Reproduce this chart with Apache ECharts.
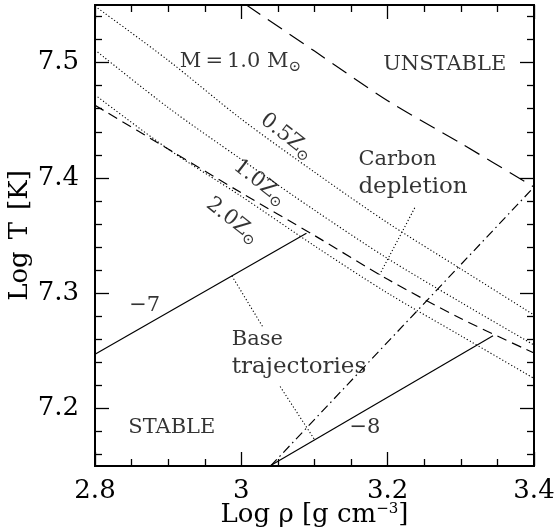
<!DOCTYPE html>
<html>
<head>
<meta charset="utf-8">
<script src="https://cdn.jsdelivr.net/npm/echarts@6/dist/echarts.min.js"></script>
<style>
  html, body { margin: 0; padding: 0; background: #fff; }
  #chart { width: 554px; height: 529px; }
</style>
</head>
<body>
<div id="chart"></div>
<script>
// Log density grid shared by the ignition curves
const logRho = [2.8, 2.9, 3.0, 3.1, 3.2, 3.3, 3.4];
// Ignition curves for M = 1.0 Msun at three metallicities
const logTHalfZ = [7.549, 7.502, 7.451, 7.405, 7.361, 7.321, 7.281];
const logTOneZ  = [7.511, 7.461, 7.416, 7.372, 7.330, 7.292, 7.255];
const logTTwoZ  = [7.472, 7.425, 7.384, 7.341, 7.300, 7.263, 7.226];
// Carbon depletion line
const logTCarbon = [7.463, 7.425, 7.387, 7.350, 7.312, 7.278, 7.248];
// Stability boundary (long dashes)
const rhoUnstable = [3.007, 3.1, 3.2, 3.3, 3.4];
const logTUnstable = [7.550, 7.510, 7.467, 7.430, 7.392];
// Dash-dot boundary
const rhoDashDot = [3.04, 3.4];
const logTDashDot = [7.15, 7.392];
// Base trajectories labelled by log accretion rate
const rhoTrajM7 = [2.8, 3.089];
const logTTrajM7 = [7.247, 7.352];
const rhoTrajM8 = [3.039, 3.344];
const logTTrajM8 = [7.15, 7.263];
// Pointer lines from the text notes
const rhoPtrCarbon = [3.237, 3.189];
const logTPtrCarbon = [7.374, 7.316];
const rhoPtrBase1 = [2.987, 3.030];
const logTPtrBase1 = [7.315, 7.270];
const rhoPtrBase2 = [3.053, 3.100];
const logTPtrBase2 = [7.219, 7.173];
// Axis ticks
const xRange = [2.8, 3.4];
const yRange = [7.15, 7.55];
const yTickLabels = [7.2, 7.3, 7.4, 7.5];
const yMinorTicks = [7.16, 7.18, 7.22, 7.24, 7.26, 7.28, 7.32, 7.34, 7.36, 7.38,
                     7.42, 7.44, 7.46, 7.48, 7.52, 7.54];
// Text notes (data coordinates)
const notes = [
  { text: 'M{eq|=}1.0 M{sub|⊙}', rho: 2.916, logT: 7.501, align: 'left', rotate: 0 },
  { text: 'UNSTABLE', rho: 3.278, logT: 7.498, align: 'center', rotate: 0 },
  { text: '0.5Z{sub|⊙}', rho: 3.062, logT: 7.436, align: 'center', rotate: -38 },
  { text: '1.0Z{sub|⊙}', rho: 3.025, logT: 7.396, align: 'center', rotate: -38 },
  { text: '2.0Z{sub|⊙}', rho: 2.988, logT: 7.363, align: 'center', rotate: -38 },
  { text: 'Carbon\n{wide|depletion}', rho: 3.160, logT: 7.404, align: 'left', rotate: 0 },
  { text: '\u22127', rho: 2.868, logT: 7.289, align: 'center', rotate: 0 },
  { text: 'Base\n{wide|trajectories}', rho: 2.987, logT: 7.248, align: 'left', rotate: 0 },
  { text: '\u22128', rho: 3.169, logT: 7.183, align: 'center', rotate: 0 },
  { text: 'STABLE', rho: 2.905, logT: 7.183, align: 'center', rotate: 0 }
];

const serif = '"DejaVu Serif", "Liberation Serif", serif';
const black = '#000';

function pairs(xs, ys) { return xs.map((x, i) => [x, ys[i]]); }

function lineSeries(xs, ys, style, smooth) {
  return {
    type: 'line',
    data: pairs(xs, ys),
    showSymbol: false,
    symbol: 'none',
    smooth: smooth ? 0.3 : false,
    silent: true,
    clip: true,
    lineStyle: Object.assign({ color: black, width: 1.2 }, style),
    z: 3
  };
}

const dotted = { type: [1.2, 2.2], width: 1.1 };
const xCommon = {
  type: 'value', min: xRange[0], max: xRange[1], interval: 0.2,
  axisLine: { show: true, onZero: false, lineStyle: { color: black, width: 2 } },
  axisTick: { show: true, inside: true, length: 14, lineStyle: { color: black, width: 1.3 } },
  minorTick: { show: true, splitNumber: 4, length: 7, lineStyle: { color: black, width: 1.3 } },
  splitLine: { show: false }, minorSplitLine: { show: false }
};
function yAxisDef(position, ticks, len, labels) {
  return {
    type: 'value', min: yRange[0], max: yRange[1], position: position,
    axisLine: { show: true, onZero: false, lineStyle: { color: black, width: 2 } },
    axisTick: { show: true, inside: true, length: len, customValues: ticks,
                lineStyle: { color: black, width: 1.3 } },
    axisLabel: labels ? {
      show: true, customValues: yTickLabels, fontFamily: serif, fontSize: 26,
      color: black, margin: 16, formatter: v => Number(v).toFixed(1)
    } : { show: false },
    splitLine: { show: false }
  };
}

const gap = { width: 12 };
const yLeft = yAxisDef('left', yTickLabels, 14, true);
yLeft.name = 'Log{sp| }T{sp| }[K]';
yLeft.nameLocation = 'middle';
yLeft.nameGap = 62;
yLeft.nameMoveOverlap = false;
yLeft.nameTextStyle = { fontFamily: serif, fontSize: 26, color: black,
                        rich: { sp: Object.assign({ fontFamily: serif, fontSize: 26 }, gap) } };

const option = {
  animation: false,
  backgroundColor: '#fff',
  grid: { left: 95, right: 20, top: 5, bottom: 63, containLabel: false, outerBoundsMode: 'none' },
  xAxis: [
    Object.assign({}, xCommon, {
      position: 'bottom',
      axisLabel: { show: true, fontFamily: serif, fontSize: 26, color: black, margin: 12,
                   formatter: v => String(Number(Number(v).toFixed(1))) },
      name: 'Log \u03c1 [g cm{sup|\u22123}]',
      nameLocation: 'middle', nameGap: 36, nameMoveOverlap: false,
      nameTextStyle: { fontFamily: serif, fontSize: 26, color: black,
                       rich: { sup: { fontFamily: serif, fontSize: 15, lineHeight: 10, verticalAlign: 'top', color: black } } }
    }),
    Object.assign({}, xCommon, { position: 'top', axisLabel: { show: false } })
  ],
  yAxis: [
    yLeft,
    yAxisDef('left', yMinorTicks, 7, false),
    yAxisDef('right', yTickLabels, 14, false),
    yAxisDef('right', yMinorTicks, 7, false)
  ],
  series: [
    lineSeries(logRho, logTHalfZ, dotted, true),
    lineSeries(logRho, logTOneZ, dotted, true),
    lineSeries(logRho, logTTwoZ, dotted, true),
    lineSeries(logRho, logTCarbon, { type: [10, 6] }, true),
    lineSeries(rhoUnstable, logTUnstable, { type: [17, 9] }, true),
    lineSeries(rhoDashDot, logTDashDot, { type: [9, 4, 1.5, 4] }, false),
    lineSeries(rhoTrajM7, logTTrajM7, {}, false),
    lineSeries(rhoTrajM8, logTTrajM8, {}, false),
    lineSeries(rhoPtrCarbon, logTPtrCarbon, dotted, false),
    lineSeries(rhoPtrBase1, logTPtrBase1, dotted, false),
    lineSeries(rhoPtrBase2, logTPtrBase2, dotted, false),
    {
      type: 'scatter',
      symbolSize: 0,
      silent: true,
      z: 5,
      data: notes.map(n => ({
        value: [n.rho, n.logT],
        label: {
          show: true, position: 'inside', formatter: n.text,
          align: n.align, verticalAlign: 'middle', rotate: n.rotate,
          fontFamily: serif, fontSize: 21, color: black, lineHeight: 27,
          rich: {
            sub: { fontFamily: serif, fontSize: 15, lineHeight: 8, verticalAlign: 'bottom', color: black },
            eq: { fontFamily: serif, fontSize: 21, padding: [0, 4, 0, 4], color: black },
            wide: { fontFamily: serif, fontSize: 23, lineHeight: 27, color: black }
          }
        }
      }))
    }
  ]
};

const chart = echarts.init(document.getElementById('chart'), null, { renderer: 'canvas' });
chart.setOption(option);
</script>
</body>
</html>
